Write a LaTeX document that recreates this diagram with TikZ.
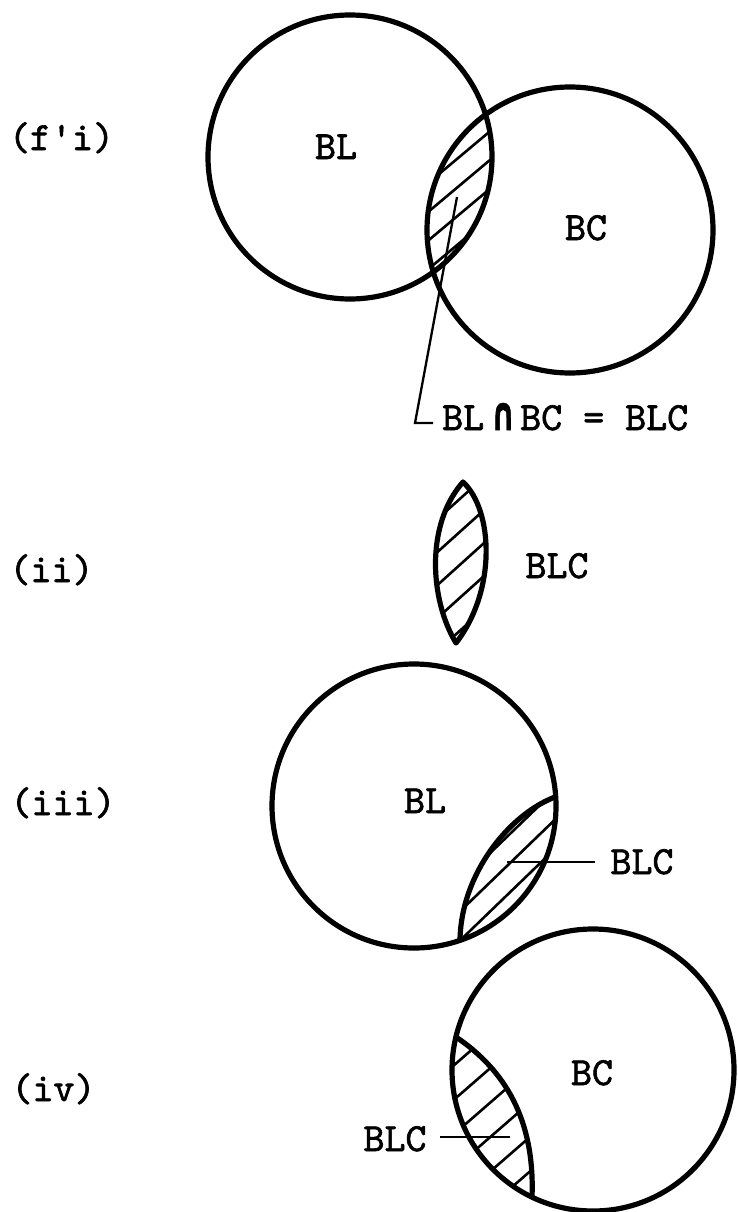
\documentclass[tikz,border=0pt]{standalone}
\usepackage{graphicx}
\usepackage{fontspec}
\newfontfamily\twfont{lmmono10-regular.otf}[FakeBold=1.6]
\newfontfamily\capfont{DejaVu Sans}[FakeBold=1.5]
\tikzset{
  outline/.style={line width=5.2pt, line join=round, line cap=round},
  hatch/.style={line width=2.6pt},
  leader/.style={line width=2.3pt},
  lbl/.style={inner sep=0pt, anchor=base, font=\twfont\fontsize{40}{44}\selectfont},
}
\newcommand\hatchlines[6]{%
  \foreach \k in {-#6,...,#6}{%
    \pgfmathsetmacro\myoff{#4+\k*#5}%
    \draw[hatch] ({#2+\myoff*sin(#1)-150*cos(#1)},{#3+\myoff*cos(#1)+150*sin(#1)}) --
                 ({#2+\myoff*sin(#1)+150*cos(#1)},{#3+\myoff*cos(#1)-150*sin(#1)});
  }}
\begin{document}
\begin{tikzpicture}[x=1pt,y=-1pt]
\useasboundingbox (0,0) rectangle (738,1212);

% ---------- (f'i) ----------
\coordinate (blA) at (350,157);
\coordinate (bcA) at (570,230);
\begin{scope}
  \clip (blA) circle[radius=142];
  \clip (bcA) circle[radius=143];
  \hatchlines{40}{460}{193}{-6}{22}{4}
\end{scope}
\draw[outline] (blA) circle[radius=142];
\draw[outline] (bcA) circle[radius=143];
\node[lbl] (labA) at (61.5,150) {(f'i)};
\node[lbl] (blAt) at (336,159) {BL};
\node[lbl] (bcAt) at (586,240) {BC};
\node[lbl, anchor=base west] (inter) at (442,430)
  {BL\kern7pt\resizebox{24pt}{27pt}{\capfont\bfseries ∩}\kern5pt BC = BLC};
\coordinate (fstart) at (457,197);
\coordinate (fcorner) at (415,423);
\coordinate (fend) at (433,423);
\draw[leader] (fstart) -- (fcorner) -- (fend);

% ---------- (ii) ----------
\coordinate (lt) at (463,482);
\coordinate (lb) at (456,643);
\begin{scope}
  \clip (lt) .. controls (425,525) and (430,600) .. (lb)
        .. controls (497,590) and (493,510) .. (lt) -- cycle;
  \hatchlines{42}{460}{562}{2}{24.5}{4}
\end{scope}
\draw[outline] (lt) .. controls (425,525) and (430,600) .. (lb)
        .. controls (497,590) and (493,510) .. (lt) -- cycle;
\node[lbl] (labB) at (51.5,582) {(ii)};
\node[lbl] (blcB) at (557,578) {BLC};

% ---------- (iii) ----------
\coordinate (blC) at (414,806);
\coordinate (cbot) at (460,940);
\coordinate (ctop) at (555,797);
\begin{scope}
  \clip (blC) circle[radius=142];
  \clip (460,990) -- (cbot) .. controls (461,875) and (508,815) .. (ctop)
        -- (610,770) -- (680,1000) -- cycle;
  \hatchlines{44}{510}{870}{-5}{21}{3}
\end{scope}
\draw[outline] (blC) circle[radius=142];
\draw[outline] (cbot) .. controls (461,875) and (508,815) .. (ctop);
\node[lbl] (labC) at (63,815) {(iii)};
\node[lbl] (blCt) at (425,813) {BL};
\node[lbl] (blcC) at (642,874) {BLC};
\coordinate (cstart) at (507,862);
\coordinate (cend) at (595,862);
\draw[leader] (cstart) -- (cend);

% ---------- (iv) ----------
\coordinate (bcD) at (593,1070);
\coordinate (dtop) at (456,1037);
\coordinate (dbot) at (532,1197);
\begin{scope}
  \clip (bcD) circle[radius=141];
  \clip (407,1004) -- (dtop) .. controls (505,1070) and (535,1120) .. (dbot)
        -- (529,1260) -- (300,1260) -- (300,1004) -- cycle;
  \hatchlines{41}{500}{1110}{-12}{26}{4}
\end{scope}
\draw[outline] (bcD) circle[radius=141];
\draw[outline] (dtop) .. controls (505,1070) and (535,1120) .. (dbot);
\node[lbl] (labD) at (53.5,1101) {(iv)};
\node[lbl] (bcDt) at (592,1085) {BC};
\node[lbl] (blcD) at (395,1151) {BLC};
\coordinate (dstart) at (440,1137);
\coordinate (dend) at (510,1137);
\draw[leader] (dstart) -- (dend);
\end{tikzpicture}
\end{document}
